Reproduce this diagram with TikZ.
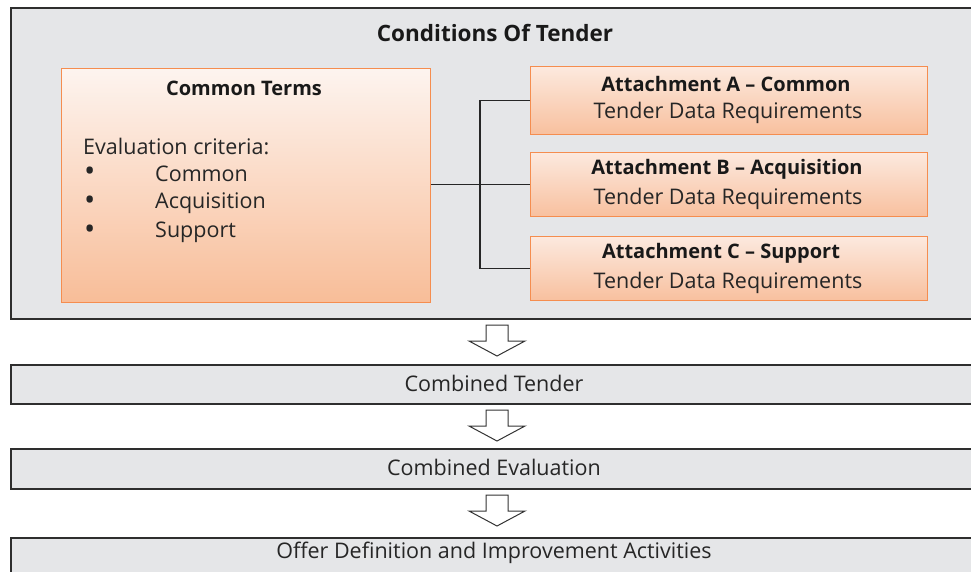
\documentclass[tikz,border=0pt]{standalone}
\usepackage{fontspec}
\setmainfont{Open Sans}
\definecolor{panel}{HTML}{E5E6E8}
\definecolor{edge}{HTML}{2E2E2E}
\definecolor{orline}{HTML}{F58D4F}
\definecolor{ortop}{HTML}{FDF4EF}
\definecolor{orbot}{HTML}{F8BD98}
\definecolor{attop}{HTML}{FCE9DE}
\definecolor{atbot}{HTML}{F8C09E}
\tikzset{
  graybox/.style={draw=edge, line width=1.6pt, fill=panel, inner sep=0pt, anchor=north west},
  termsbox/.style={draw=orline, line width=1.3pt, top color=ortop, bottom color=orbot, inner sep=0pt, anchor=north west},
  attbox/.style={draw=orline, line width=1.3pt, top color=attop, bottom color=atbot, inner sep=0pt, anchor=north west},
  maintitle/.style={font=\fontsize{22.5}{25}\selectfont\bfseries, text=black!90},
  headtxt/.style={font=\fontsize{20}{23}\selectfont\bfseries, text=black!90},
  bodytxt/.style={font=\fontsize{21.5}{24}\selectfont, text=black!85},
  lefttxt/.style={bodytxt, anchor=west, inner sep=0pt},
  bullettxt/.style={lefttxt, font=\fontsize{30}{30}\selectfont},
  link/.style={line width=1.2pt, draw=black!85},
  blockarrow/.pic={\draw[line width=1pt, draw=black!80, fill=white, line join=miter]
      (-11,0) -- (11,0) -- (11,-16) -- (28,-16) -- (0,-31) -- (-28,-16) -- (-11,-16) -- cycle;}
}
\begin{document}
\begin{tikzpicture}[x=1pt,y=1pt]
\useasboundingbox (0,0) rectangle (971,-571);
\fill[white] (0,0) rectangle (971,-571);
\begin{scope}
\clip (0,0) rectangle (971,-571);
% outer panel
\node[graybox, minimum width=975pt, minimum height=311pt] (cond) at (10,-7) {};
\node[maintitle] (condtitle) at (495,-33) {Conditions Of Tender};

% common terms box
\node[termsbox, minimum width=369pt, minimum height=234pt] (common) at (61,-68) {};
\node[headtxt] (commontitle) at (244,-88) {Common Terms};
\node[lefttxt] (crit) at (83,-146) {Evaluation criteria:};
\node[bullettxt] (b1) at (84,-174) {•};
\node[bullettxt] (b2) at (84,-203) {•};
\node[bullettxt] (b3) at (84,-232) {•};
\node[lefttxt] (i1) at (155,-174) {Common};
\node[lefttxt] (i2) at (155,-203) {Acquisition};
\node[lefttxt] (i3) at (155,-232) {Support};

% attachments
\node[attbox, minimum width=397pt, minimum height=68pt] (attA) at (530,-66) {};
\node[attbox, minimum width=397pt, minimum height=64pt] (attB) at (530,-152) {};
\node[attbox, minimum width=397pt, minimum height=64pt] (attC) at (530,-236) {};
\node[headtxt] (tA) at (726,-84) {Attachment A -- Common};
\node[bodytxt] (sA) at (728,-113) {Tender Data Requirements};
\node[headtxt] (tB) at (727,-169) {Attachment B -- Acquisition};
\node[bodytxt] (sB) at (728,-199) {Tender Data Requirements};
\node[headtxt] (tC) at (721,-253) {Attachment C -- Support};
\node[bodytxt] (sC) at (728,-283) {Tender Data Requirements};

% connectors
\coordinate (bus) at (480,0);
\draw[link] (common.east |- attB.west) -- (attB.west);
\draw[link] (attA.west) -- (attA.west -| bus) -- (attC.west -| bus) -- (attC.west);

% process bars
\node[graybox, minimum width=975pt, minimum height=39pt] (tender) at (10,-364) {};
\node[bodytxt] at (494,-383) {Combined Tender};
\node[graybox, minimum width=975pt, minimum height=40pt] (evalbar) at (10,-448) {};
\node[bodytxt] at (494,-467) {Combined Evaluation};
\node[graybox, minimum width=975pt, minimum height=50pt] (offer) at (10,-537) {};
\node[bodytxt] at (494,-553) {Offer Definition and Improvement Activities};

% flow arrows
\pic at (497,-325) {blockarrow};
\pic at (497,-410) {blockarrow};
\pic at (497,-495) {blockarrow};
\end{scope}
\end{tikzpicture}
\end{document}
